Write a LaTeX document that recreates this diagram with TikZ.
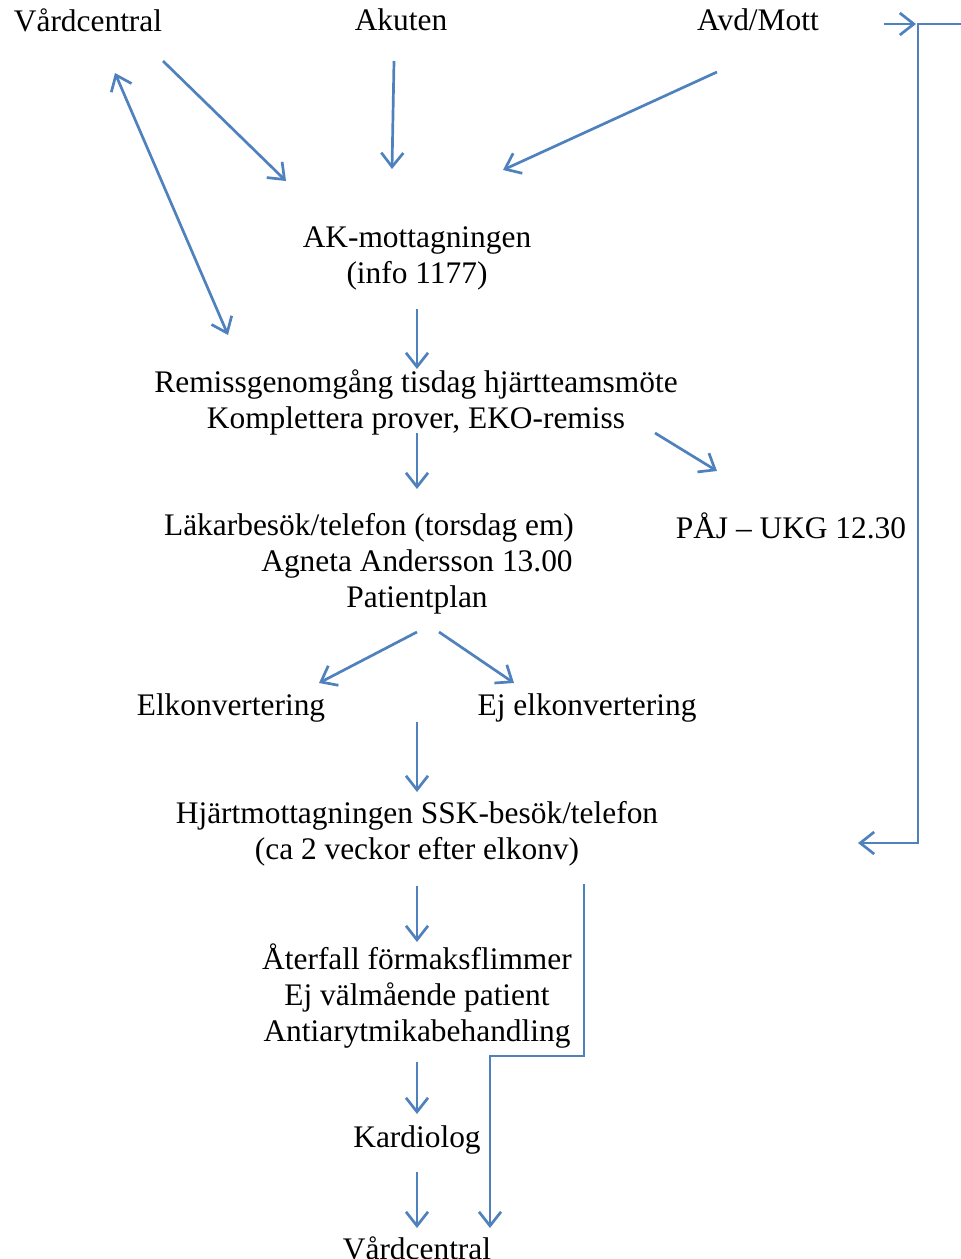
\documentclass[tikz,border=0pt]{standalone}
\usepackage{fontspec}
\setmainfont{Liberation Serif}
\usetikzlibrary{arrows.meta}
\definecolor{arr}{RGB}{79,129,189}
\begin{document}
\begin{tikzpicture}[x=1pt,y=-1pt,
  lbl/.style={font=\fontsize{31.4}{36}\selectfont, inner sep=0pt, align=center},
  conn/.style={draw=arr, line width=2.7pt, -{Straight Barb[length=14pt,width=22pt]}},
  dconn/.style={draw=arr, line width=2.7pt, {Straight Barb[length=14pt,width=22pt]}-{Straight Barb[length=14pt,width=22pt]}}]
\useasboundingbox (0,0) rectangle (961,1259);
\node[lbl] (vc1) at (88,20) {Vårdcentral};
\node[lbl] (ak) at (401,20) {Akuten};
\node[lbl] (avd) at (758,20) {Avd/Mott};
\node[lbl] (akm) at (417,258) {AK-mottagningen\\(info 1177)};
\node[lbl] (rem) at (416,402) {Remissgenomgång tisdag hjärtteamsmöte\\Komplettera prover, EKO-remiss};
\node[lbl] (lak) at (417,564) {Läkarbesök/telefon (torsdag em)\hspace*{96pt}\\Agneta Andersson 13.00\\Patientplan};
\node[lbl] (paj) at (791,526) {PÅJ – UKG 12.30};
\node[lbl] (elk) at (231,708) {Elkonvertering};
\node[lbl] (ejelk) at (587,708) {Ej elkonvertering};
\node[lbl] (hjm) at (417,834) {Hjärtmottagningen SSK-besök/telefon\\(ca 2 veckor efter elkonv)};
\node[lbl] (ater) at (417,996) {Återfall förmaksflimmer\\Ej välmående patient\\Antiarytmikabehandling};
\node[lbl] (kard) at (417,1140) {Kardiolog};
\node[lbl] (vc2) at (417,1248) {Vårdcentral};
\coordinate (edge) at (961,24);

\draw[conn] ([shift={(75,41)}]vc1.center) -- ([shift={(-131,-77)}]akm.center);
\draw[conn] ([shift={(-7,41)}]ak.center) -- ([shift={(-25,-89)}]akm.center);
\draw[conn] ([shift={(-41,52)}]avd.center) -- ([shift={(86,-88)}]akm.center);
\draw[dconn] ([shift={(27,53)}]vc1.center) -- ([shift={(-188,-67)}]rem.center);
\draw[conn] ([shift={(0,51)}]akm.center) -- ([shift={(1,-33)}]rem.center);
\draw[conn] ([shift={(1,31)}]rem.center) -- ([shift={(0,-75)}]lak.center);
\draw[conn] ([shift={(239,31)}]rem.center) -- ([shift={(-74,-55)}]paj.center);
\draw[conn] ([shift={(0,68)}]lak.center) -- ([shift={(88,-25)}]elk.center);
\draw[conn] ([shift={(22,68)}]lak.center) -- ([shift={(-73,-25)}]ejelk.center);
\draw[conn] ([shift={(0,-112)}]hjm.center) -- ([shift={(0,-42)}]hjm.center);
\draw[conn] ([shift={(0,52)}]hjm.center) -- ([shift={(0,-54)}]ater.center);
\draw[conn] ([shift={(0,66)}]ater.center) -- ([shift={(0,-26)}]kard.center);
\draw[conn] ([shift={(0,32)}]kard.center) -- ([shift={(0,-20)}]vc2.center);
\draw[conn] ([shift={(167,50)}]hjm.center) -- ++(0,172) -| ([shift={(73,-20)}]vc2.center);
\draw[conn] ([shift={(126,4)}]avd.center) -- ([shift={(158,4)}]avd.center);
\draw[conn] (edge) -| ([shift={(501,9)}]hjm.center) -- ([shift={(441,9)}]hjm.center);
\end{tikzpicture}
\end{document}
